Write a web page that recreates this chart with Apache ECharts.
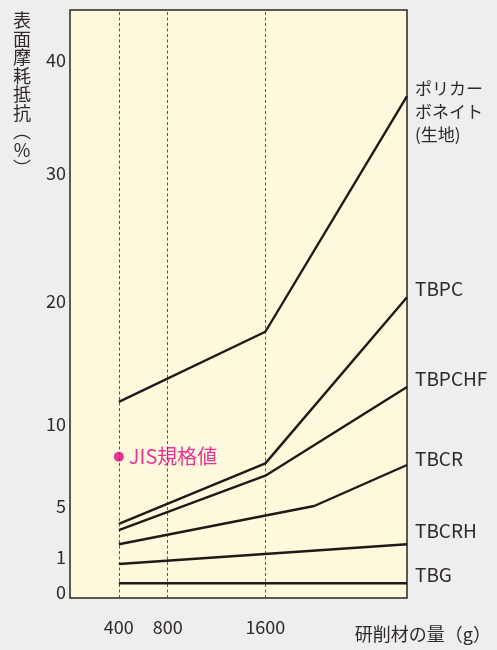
<!DOCTYPE html>
<html>
<head>
<meta charset="utf-8">
<script src="https://cdn.jsdelivr.net/npm/echarts@6/dist/echarts.min.js"></script>
<style>
	html, body { margin: 0; padding: 0; background: #eeeeee; }
	#chart { width: 497px; height: 650px; }
</style>
</head>
<body>
<div id="chart"></div>
<script>
// 研削材の量 (g)
const xMain = [400, 1600, 2760]
const xTbcr = [400, 2000, 2760]
const xFlat = [400, 2760]
const xGuides = [400, 800, 1600]

// 表面摩耗抵抗 (%)
const polycarbonate = [11.8, 17.5, 36.8]
const tbpc = [3.6, 7.6, 20.3]
const tbpchf = [3.1, 6.85, 13.0]
const tbcr = [2.0, 5.0, 7.5]
const tbcrh = [0.8, 2.0]
const tbg = [0.25, 0.25]
const jisValue = [8]

// 縦軸は不等間隔（目盛値と軸上の位置）
const yTicks = [0, 1, 5, 10, 20, 30, 40]
const yStops = [6, 41, 92, 174, 297, 425, 538]
const yMax = 588
const xMax = 2760

const ink = '#231815'
const textInk = '#2f2927'

// 値 → 軸上の位置（区間ごとに線形）
const toAxis = (v) => {
	for (let i = 1; i < yTicks.length; i++) {
		if (v <= yTicks[i]) {
			const t = (v - yTicks[i - 1]) / (yTicks[i] - yTicks[i - 1])
			return yStops[i - 1] + t * (yStops[i] - yStops[i - 1])
		}
	}
	return yStops[yStops.length - 1]
}

const pairs = (xs, ys) => xs.map((x, i) => [x, toAxis(ys[i])])

const lineSeries = (name, xs, ys, label, dy, size) => ({
	name,
	type: 'line',
	data: pairs(xs, ys),
	symbol: 'none',
	silent: true,
	lineStyle: { color: ink, width: 2.4 },
	endLabel: {
		show: true,
		formatter: label,
		distance: 8,
		offset: [0, dy],
		color: textInk,
		fontSize: size || 19,
		lineHeight: 23,
		fontFamily: 'Noto Sans CJK JP',
	},
	z: 3,
})

const myChart = echarts.init(document.getElementById('chart'))

const option = {
	backgroundColor: '#eeeeee',
	animation: false,
	grid: {
		left: 70,
		right: 90,
		top: 10,
		bottom: 52,
		show: true,
		backgroundColor: '#fef9dc',
		borderColor: '#2b2321',
		borderWidth: 1.5,
		containLabel: false,
		outerBoundsMode: 'none',
	},
	xAxis: {
		type: 'value',
		min: 0,
		max: xMax,
		axisLine: { show: false },
		axisTick: { show: false },
		splitLine: { show: false },
		axisLabel: {
			customValues: xGuides,
			formatter: (v) => String(v),
			margin: 20,
			color: textInk,
			fontSize: 18,
			fontFamily: 'Noto Sans CJK JP',
		},
	},
	yAxis: {
		type: 'value',
		min: 0,
		max: yMax,
		axisLine: { show: false },
		axisTick: { show: false },
		splitLine: { show: false },
		axisLabel: {
			customValues: yStops,
			formatter: (v) => String(yTicks[yStops.indexOf(v)]),
			margin: 4,
			color: textInk,
			fontSize: 18,
			fontFamily: 'Noto Sans CJK JP',
		},
	},
	graphic: [
		{
			type: 'text',
			left: 13,
			top: 11,
			style: {
				text: '表\n面\n摩\n耗\n抵\n抗\n︵\n%\n︶',
				fill: textInk,
				font: '18px "Noto Sans CJK JP"',
				lineHeight: 18.5,
				textAlign: 'center',
			},
		},
		{
			type: 'text',
			right: 6,
			top: 625,
			style: {
				text: '研削材の量（g）',
				fill: textInk,
				font: '18px "Noto Sans CJK JP"',
			},
		},
	],
	series: [
		lineSeries('ポリカーボネイト（生地）', xMain, polycarbonate, 'ポリカー\nボネイト\n(生地)', 15, 17),
		lineSeries('TBPC', xMain, tbpc, 'TBPC', -8),
		lineSeries('TBPCHF', xMain, tbpchf, 'TBPCHF', -8),
		lineSeries('TBCR', xTbcr, tbcr, 'TBCR', -6),
		lineSeries('TBCRH', xFlat, tbcrh, 'TBCRH', -13),
		{
			...lineSeries('TBG', xFlat, tbg, 'TBG', -8),
			markLine: {
				silent: true,
				symbol: ['none', 'none'],
				label: { show: false },
				lineStyle: { color: '#555', width: 1, type: [3, 2.5] },
				data: xGuides.map((x) => ({ xAxis: x })),
				z: 1,
			},
		},
		{
			name: 'JIS規格値',
			type: 'scatter',
			data: jisValue.map((v) => [xGuides[0], toAxis(v)]),
			symbolSize: 10,
			itemStyle: { color: '#e4007f' },
			label: {
				show: true,
				position: 'right',
				distance: 5,
				formatter: 'JIS規格値',
				color: '#e4007f',
				fontSize: 20,
				fontFamily: 'Noto Sans CJK JP',
			},
			z: 4,
		},
	],
}

myChart.setOption(option)
</script>
</body>
</html>
